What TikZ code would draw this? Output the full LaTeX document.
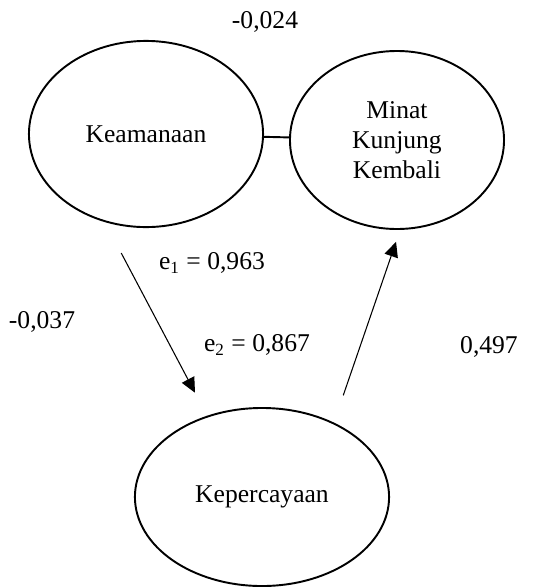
\documentclass[tikz,border=0pt]{standalone}
\usepackage{fontspec}
\setmainfont{Liberation Serif}
\usetikzlibrary{arrows.meta,positioning,shapes.geometric}
\tikzset{
  latent/.style={draw, ellipse, line width=0.9pt, align=center, inner sep=0pt},
  lbl/.style={inner sep=0pt, align=center},
  arrow/.style={-{Triangle[length=7pt,width=6.5pt]}, line width=0.5pt},
  link/.style={line width=0.9pt}
}
\begin{document}
\begin{tikzpicture}[x=0.469pt, y=-0.469pt, font=\fontsize{12}{14}\selectfont]
  \useasboundingbox (0,0) rectangle (533,588);
  \node[latent, minimum width=109.8pt, minimum height=87.3pt] (kea) at (146,134) {Keamanaan};
  \node[latent, minimum width=100.4pt, minimum height=83.5pt] (minat) at (397,140) {Minat\\Kunjung\\Kembali};
  \node[latent, minimum width=119.2pt, minimum height=83.5pt] (kep) at (262,497) {Kepercayaan};
  \node[lbl] (wkm) at (265,22) {-0,024};
  \node[lbl] (e1) at (212,263) {e\textsubscript{1} = 0,963};
  \node[lbl] (e2) at (257,345) {e\textsubscript{2} = 0,867};
  \node[lbl] (wkk) at (42,322) {-0,037};
  \node[lbl] (wkp) at (489,347) {0,497};
  \draw[link] (kea) -- (minat);
  \draw[arrow, shorten <=16.4pt, shorten >=12.2pt] (kea.245.6) -- (kep.124.2);
  \draw[arrow, shorten <=13.5pt, shorten >=5.9pt] (kep.46.6) -- (minat.272.5);
\end{tikzpicture}
\end{document}
